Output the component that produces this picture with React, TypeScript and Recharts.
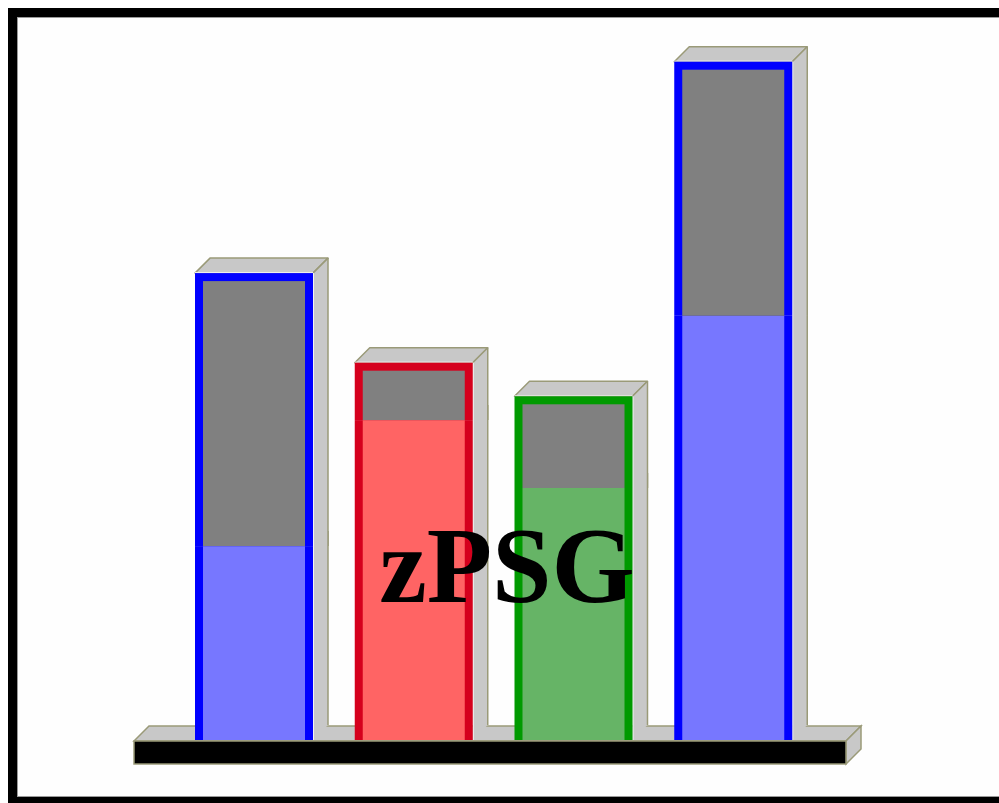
import { Bar, BarChart, XAxis, YAxis } from "recharts";

const bars = ["1", "2", "3", "4"];
const lowerValues = [27.7, 45.7, 36.0, 60.6];
const upperValues = [39.0, 8.2, 13.1, 36.3];
const title = "zPSG";

const borderColors = ["#0000ff", "#d5001d", "#009a00", "#0000ff"];
const fillColors = ["#7777ff", "#ff6464", "#66b466", "#7777ff"];
const capColor = "#808080";
const faceColor = "#c8c8c8";
const edgeColor = "#9a9a78";

const data = bars.map((name, i) => ({
  name,
  lower: lowerValues[i],
  upper: upperValues[i],
}));

const DEPTH = 15;
const RIM = 8;

function LowerShape(props: any) {
  const { x, y, width, height, index } = props;
  const r = x + width;
  return (
    <g>
      <polygon
        points={`${r},${y} ${r + DEPTH},${y - DEPTH} ${r + DEPTH},${y + height - DEPTH} ${r},${y + height}`}
        fill={faceColor}
      />
      <line x1={r + DEPTH} y1={y - DEPTH} x2={r + DEPTH} y2={y + height - DEPTH} stroke={edgeColor} strokeWidth={1.5} />
      <line x1={r + 0.5} y1={y} x2={r + 0.5} y2={y + height} stroke="#f4f4f4" strokeWidth={1} />
      <rect x={x} y={y} width={width} height={height} fill={borderColors[index]} />
      <rect x={x + RIM} y={y} width={width - RIM * 2} height={height} fill={fillColors[index]} />
    </g>
  );
}

function UpperShape(props: any) {
  const { x, y, width, height, index } = props;
  const r = x + width;
  return (
    <g>
      <polygon
        points={`${x},${y} ${x + DEPTH},${y - DEPTH} ${r + DEPTH},${y - DEPTH} ${r},${y}`}
        fill={faceColor}
        stroke={edgeColor}
        strokeWidth={1.5}
        strokeLinejoin="round"
      />
      <polygon
        points={`${r},${y} ${r + DEPTH},${y - DEPTH} ${r + DEPTH},${y + height} ${r},${y + height}`}
        fill={faceColor}
      />
      <line x1={r} y1={y} x2={r + DEPTH} y2={y - DEPTH} stroke={edgeColor} strokeWidth={1.5} />
      <line x1={r + DEPTH} y1={y - DEPTH} x2={r + DEPTH} y2={y + height} stroke={edgeColor} strokeWidth={1.5} />
      <line x1={r + 0.5} y1={y} x2={r + 0.5} y2={y + height} stroke="#f4f4f4" strokeWidth={1} />
      <line x1={x} y1={y - 0.5} x2={r} y2={y - 0.5} stroke="#f4f4f4" strokeWidth={1} />
      <rect x={x} y={y} width={width} height={height} fill={borderColors[index]} />
      <rect x={x + RIM} y={y + RIM} width={width - RIM * 2} height={height - RIM} fill={capColor} />
    </g>
  );
}

function Base() {
  return (
    <svg width={999} height={803} style={{ position: "fixed", left: 0, top: 0 }}>
      <polygon points="134,741 149,726 861,726 846,741" fill={faceColor} stroke={edgeColor} strokeWidth={1.5} />
      <polygon points="846,741 861,726 861,749 846,764" fill={faceColor} stroke={edgeColor} strokeWidth={1.5} />
      <rect x={134} y={741} width={712} height={23} fill="#000" stroke={edgeColor} strokeWidth={1.5} />
    </svg>
  );
}

export default function App() {
  return (
    <div>
      <div
        style={{
          position: "fixed",
          left: 8,
          top: 8,
          width: 1010,
          height: 798,
          boxSizing: "border-box",
          border: "9px solid #000",
          background: "#fefefe",
          boxShadow: "inset 1px 1px 0 #9a9a9a, inset -1px -1px 0 #9a9a9a",
        }}
      />
      <Base />
      <div style={{ position: "fixed", left: 0, top: 0 }}>
        <BarChart
          width={999}
          height={803}
          data={data}
          margin={{ top: 40, right: 186, left: 174, bottom: 63 }}
          barSize={118}
        >
          <XAxis dataKey="name" hide />
          <YAxis domain={[0, 100]} hide />
          <Bar dataKey="lower" stackId="a" shape={LowerShape} isAnimationActive={false} />
          <Bar dataKey="upper" stackId="a" shape={UpperShape} isAnimationActive={false} />
        </BarChart>
      </div>
      <svg width={999} height={803} style={{ position: "fixed", left: 0, top: 0, pointerEvents: "none" }}>
        <text
          x={507}
          y={602}
          textAnchor="middle"
          fontFamily="'Liberation Serif', 'DejaVu Serif', serif"
          fontWeight="bold"
          fontSize={107}
          fill="#000"
        >
          {title}
        </text>
      </svg>
    </div>
  );
}
